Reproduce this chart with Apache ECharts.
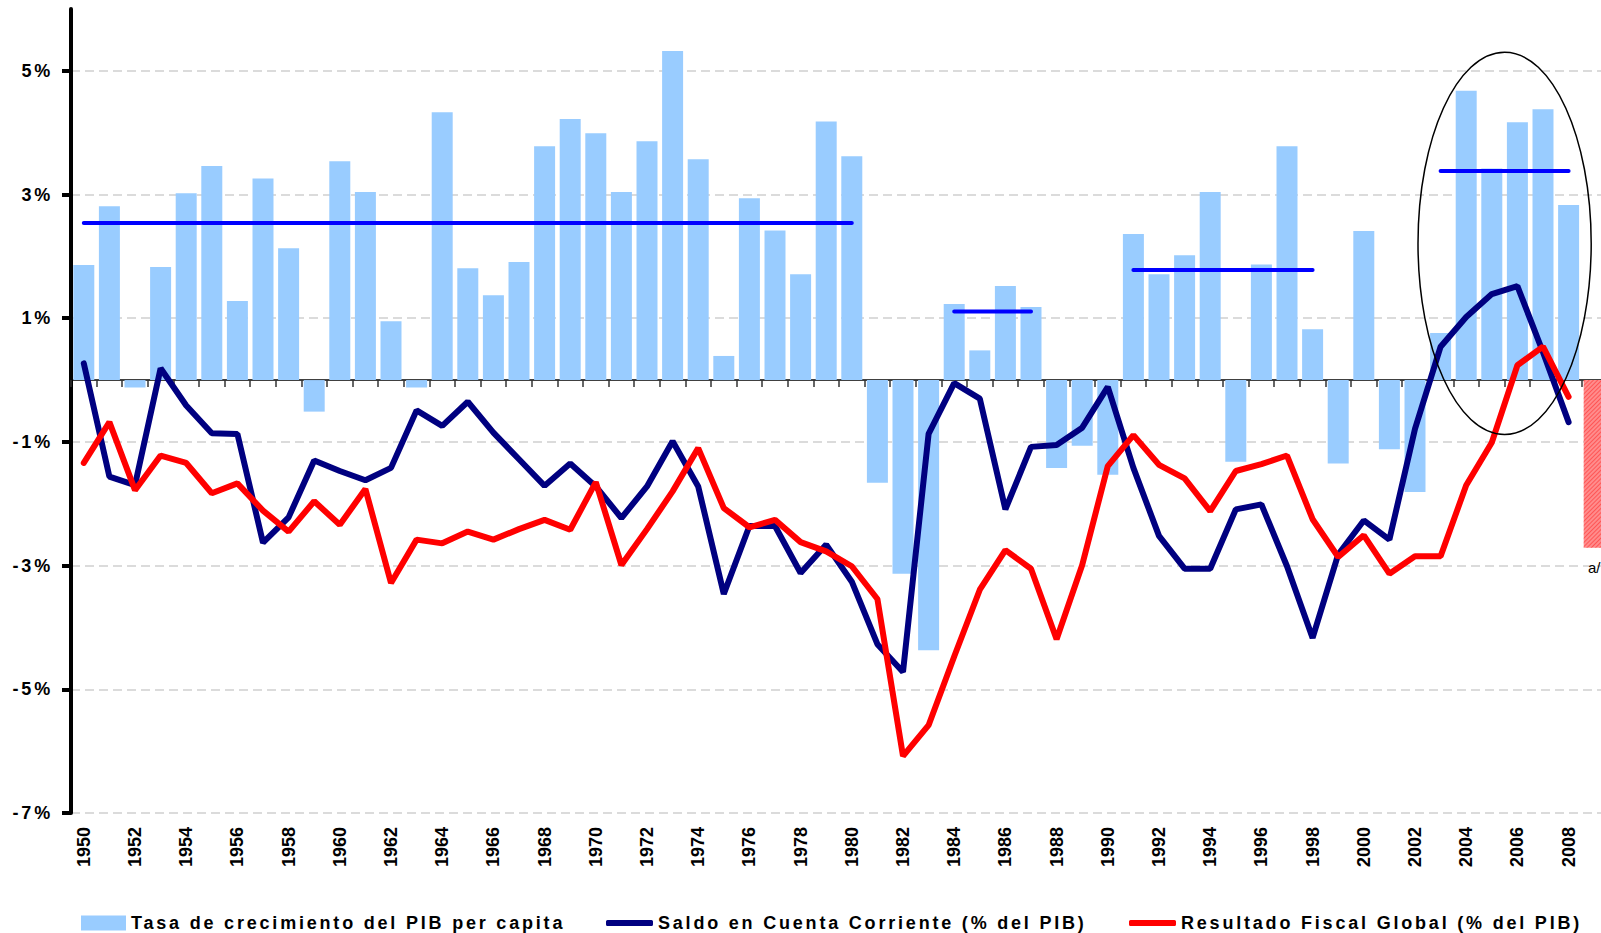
<!DOCTYPE html>
<html>
<head>
<meta charset="utf-8">
<title>PIB per capita, cuenta corriente y resultado fiscal</title>
<script src="https://cdn.jsdelivr.net/npm/echarts@6/dist/echarts.min.js"></script>
<style>
  html, body { margin: 0; padding: 0; background: #fff; }
  #chart { width: 1601px; height: 933px; }
  /* legend and value-axis labels of the original are letter-spaced */
  #chart text[style*="Arial"] { letter-spacing: 2.8px; }
</style>
</head>
<body>
<div id="chart"></div>
<script>
const years = [
  '1950', '1951', '1952', '1953', '1954', '1955', '1956', '1957', '1958', '1959',
  '1960', '1961', '1962', '1963', '1964', '1965', '1966', '1967', '1968', '1969',
  '1970', '1971', '1972', '1973', '1974', '1975', '1976', '1977', '1978', '1979',
  '1980', '1981', '1982', '1983', '1984', '1985', '1986', '1987', '1988', '1989',
  '1990', '1991', '1992', '1993', '1994', '1995', '1996', '1997', '1998', '1999',
  '2000', '2001', '2002', '2003', '2004', '2005', '2006', '2007', '2008', '2009'
]

// Tasa de crecimiento del PIB per capita (%)
const gdpGrowth = [
  1.86, 2.81, -0.12, 1.83, 3.02, 3.46, 1.28, 3.26, 2.13, -0.51,
  3.54, 3.04, 0.95, -0.12, 4.33, 1.81, 1.37, 1.91, 3.78, 4.22,
  3.99, 3.04, 3.86, 5.32, 3.57, 0.39, 2.94, 2.42, 1.71, 4.18,
  3.62, -1.66, -3.13, -4.37, 1.23, 0.48, 1.52, 1.18, -1.42, -1.06,
  -1.53, 2.36, 1.71, 2.02, 3.04, -1.32, 1.87, 3.78, 0.82, -1.35,
  2.41, -1.12, -1.81, 0.76, 4.68, 3.42, 4.17, 4.38, 2.83, null
]

// Saldo en Cuenta Corriente (% del PIB)
const currentAccount = [
  0.27, -1.56, -1.70, 0.19, -0.41, -0.86, -0.87, -2.63, -2.22, -1.30,
  -1.47, -1.62, -1.42, -0.49, -0.74, -0.35, -0.85, -1.28, -1.71, -1.35,
  -1.72, -2.23, -1.72, -0.99, -1.72, -3.46, -2.36, -2.36, -3.12, -2.66,
  -3.26, -4.27, -4.72, -0.87, -0.05, -0.30, -2.09, -1.08, -1.05, -0.77,
  -0.11, -1.42, -2.52, -3.05, -3.05, -2.09, -2.01, -3.01, -4.17, -2.82,
  -2.27, -2.58, -0.79, 0.54, 1.02, 1.39, 1.52, 0.45, -0.68, null
]

// Resultado Fiscal Global (% del PIB)
const fiscalBalance = [
  -1.34, -0.68, -1.78, -1.22, -1.34, -1.83, -1.67, -2.11, -2.45, -1.96,
  -2.34, -1.76, -3.28, -2.58, -2.64, -2.45, -2.58, -2.41, -2.26, -2.42,
  -1.65, -2.99, -2.41, -1.80, -1.10, -2.07, -2.38, -2.26, -2.62, -2.77,
  -3.01, -3.54, -6.08, -5.58, -4.47, -3.39, -2.75, -3.05, -4.19, -2.99,
  -1.39, -0.89, -1.37, -1.59, -2.12, -1.47, -1.36, -1.22, -2.25, -2.86,
  -2.51, -3.13, -2.85, -2.85, -1.70, -1.01, 0.24, 0.54, -0.27, null
]

// 2009 fiscal estimate, drawn as a hatched bar with note a/
const fiscalEstimateYear = '2009'
const fiscalEstimate = -2.71

// average growth per period: [from, to, value]
const growthAverages = [
  ['1950', '1980', 2.54],
  ['1984', '1987', 1.11],
  ['1991', '1998', 1.78],
  ['2003', '2008', 3.38]
]

// oval around 2003-2008: opposite corners of its box [year, value]
const ovalBox = [['2002', 5.30], ['2009', -0.88]]

const yTicks = [-7, -5, -3, -1, 1, 3, 5]

const names = {
  growth: 'Tasa de crecimiento del PIB per capita',
  account: 'Saldo en Cuenta Corriente (% del PIB)',
  fiscal: 'Resultado Fiscal Global (% del PIB)'
}

const avgData = years.map(y => {
  const p = growthAverages.find(a => y >= a[0] && y <= a[1])
  return p ? p[2] : null
})
const estimateData = years.map(y => (y === fiscalEstimateYear ? fiscalEstimate : null))

const legendText = { fontFamily: 'Arial', fontWeight: 'bold', fontSize: 18, color: '#000' }
function legendAt(left, name, icon, w, h) {
  return {
    left: left,
    top: 914,
    padding: 0,
    itemWidth: w,
    itemHeight: h,
    icon: icon,
    selectedMode: false,
    textStyle: legendText,
    data: [name]
  }
}

const chart = echarts.init(document.getElementById('chart'), null, { renderer: 'svg' })

chart.setOption({
  animation: false,
  backgroundColor: '#fff',
  grid: { left: 71, right: -6, top: 9, bottom: 120, outerBoundsMode: 'none' },
  legend: [
    legendAt(81, names.growth, 'rect', 45, 15),
    legendAt(606, names.account, 'roundRect', 47, 6),
    legendAt(1129, names.fiscal, 'roundRect', 47, 6)
  ],
  xAxis: [
    {
      type: 'category',
      data: years,
      position: 'bottom',
      axisLine: { onZero: true, lineStyle: { color: '#000', width: 1.5 } },
      axisTick: { show: true, interval: 0, length: 7, lineStyle: { color: '#333', width: 1.5 } },
      axisLabel: { show: false },
      splitLine: { show: false }
    },
    {
      type: 'category',
      data: years,
      position: 'bottom',
      axisLine: { show: false, onZero: false },
      axisTick: { show: false },
      axisLabel: {
        interval: 1,
        rotate: 90,
        margin: 14,
        fontFamily: 'Liberation Sans',
        fontWeight: 'bold',
        fontSize: 18,
        color: '#000'
      },
      splitLine: { show: false }
    }
  ],
  yAxis: {
    type: 'value',
    min: -7,
    max: 6,
    interval: 2,
    axisLine: { show: true, lineStyle: { color: '#000', width: 4 } },
    axisTick: { show: true, length: 9, customValues: yTicks, lineStyle: { color: '#000', width: 4 } },
    axisLabel: {
      customValues: yTicks,
      formatter: '{value}%',
      margin: 18,
      fontFamily: 'Arial',
      fontWeight: 'bold',
      fontSize: 18,
      color: '#000'
    },
    splitLine: {
      show: true,
      lineStyle: { color: '#d0d0d0', type: [9, 5], width: 1.5 }
    }
  },
  series: [
    {
      name: names.growth,
      type: 'bar',
      data: gdpGrowth,
      barCategoryGap: '18%',
      barGap: '-100%',
      itemStyle: { color: '#99CCFF' },
      z: 2
    },
    {
      name: 'Resultado Fiscal 2009 a/',
      type: 'bar',
      data: estimateData,
      barCategoryGap: '18%',
      barGap: '-100%',
      itemStyle: {
        color: '#ff8c8c',
        decal: {
          symbol: 'rect',
          color: 'rgba(255, 40, 40, 0.55)',
          dashArrayX: [1, 0],
          dashArrayY: [1, 2],
          rotation: -Math.PI / 4
        }
      },
      label: {
        show: true,
        position: 'bottom',
        distance: 12,
        formatter: 'a/',
        fontFamily: 'Liberation Sans',
        fontSize: 15,
        color: '#000'
      },
      z: 2
    },
    {
      name: names.account,
      type: 'line',
      data: currentAccount,
      symbol: 'none',
      lineStyle: { color: '#000080', width: 6, cap: 'round' },
      itemStyle: { color: '#000080' },
      z: 3
    },
    {
      name: names.fiscal,
      type: 'line',
      data: fiscalBalance,
      symbol: 'none',
      lineStyle: { color: '#FF0000', width: 6, cap: 'round' },
      itemStyle: { color: '#FF0000' },
      z: 4
    },
    {
      name: 'Promedio',
      type: 'line',
      data: avgData,
      symbol: 'none',
      connectNulls: false,
      lineStyle: { color: '#0000FF', width: 4, cap: 'round' },
      z: 5
    }
  ]
})

// oval placed from data coordinates
const p0 = chart.convertToPixel({ xAxisIndex: 0, yAxisIndex: 0 }, ovalBox[0])
const p1 = chart.convertToPixel({ xAxisIndex: 0, yAxisIndex: 0 }, ovalBox[1])
chart.setOption({
  graphic: [{
    type: 'ellipse',
    shape: {
      cx: (p0[0] + p1[0]) / 2,
      cy: (p0[1] + p1[1]) / 2,
      rx: Math.abs(p1[0] - p0[0]) / 2 - 3,
      ry: Math.abs(p1[1] - p0[1]) / 2
    },
    style: { fill: 'none', stroke: '#000', lineWidth: 1.5 },
    z: 10
  }]
})
</script>
</body>
</html>
